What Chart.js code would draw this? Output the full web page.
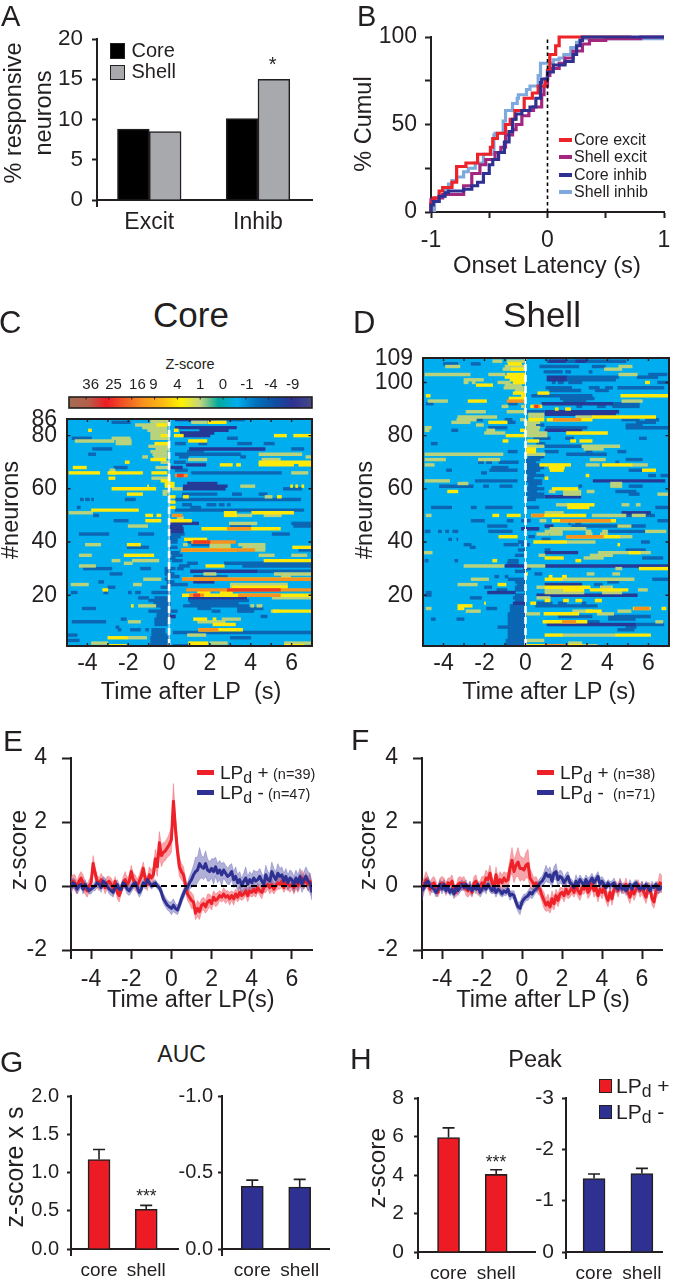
<!DOCTYPE html>
<html>
<head>
<meta charset="utf-8">
<style>
html, body { margin: 0; padding: 0; background: #fff; }
#page { position: relative; width: 681px; height: 1280px; overflow: hidden; font-family: "Liberation Sans", Arial, sans-serif; color: #231f20; }
#page canvas { position: absolute; }
.t { position: absolute; white-space: nowrap; line-height: 1; }
.t sub { font-size: .84em; vertical-align: -0.22em; line-height: 0; }
.sw { position: absolute; }
</style>
<script src="https://cdn.jsdelivr.net/npm/chart.js"></script>
</head>
<body>
<div id="page"></div>
<script>
// Panel A
const responseTypes = ['Excit', 'Inhib'];
const coreResponsive = [8.8, 10.1];
const shellResponsive = [8.5, 15];

// Panel B, latency [s] and cumulative %
const coreExcit = [[-1,0],[-.98,5],[-.93,8],[-.9,12],[-.82,14],[-.78,17],[-.7,26],[-.6,28],[-.49,33],[-.47,37],[-.43,42],[-.36,45],[-.32,50],[-.28,53],[-.2,58],[-.13,65],[-.08,68],[-.02,72],[0,76],[.02,81],[.07,90],[.1,95],[.17,100],[.72,100]];
const shellExcit = [[-1,0],[-.97,7],[-.9,8],[-.72,10],[-.65,15],[-.58,22],[-.53,27],[-.45,30],[-.4,34],[-.36,37],[-.3,44],[-.27,47],[-.22,50],[-.16,55],[-.12,58],[-.05,60],[-.03,67],[0,72],[.02,78],[.1,82],[.15,85],[.22,88],[.3,92],[.36,96],[.5,98],[.8,99],[1,100]];
const coreInhib = [[-1,0],[-.98,4],[-.93,6],[-.88,9],[-.85,11],[-.72,12],[-.65,13],[-.6,15],[-.55,17],[-.5,22],[-.47,27],[-.42,30],[-.37,34],[-.33,40],[-.3,46],[-.27,53],[-.22,56],[-.15,58],[-.1,60],[-.06,65],[-.05,74],[0,76],[.05,80],[.15,84],[.22,86],[.25,90],[.28,95],[.3,98],[.72,100],[1,100]];
const shellInhib = [[-.97,0],[-.93,6],[-.88,9],[-.85,13],[-.82,16],[-.78,18],[-.72,20],[-.68,23],[-.62,25],[-.55,28],[-.46,33],[-.45,44],[-.38,45],[-.36,52],[-.3,58],[-.26,62],[-.25,65],[-.18,67],[-.15,70],[-.08,72],[-.06,78],[-.05,85],[.05,85],[.1,87],[.14,88],[.2,90],[.25,94],[.28,97],[1,99]];

// Colour scale of panel C
const zScoreLabels = ['36','25','16','9','4','1','0','-1','-4','-9'];
const zScoreColors = ['#a56b52','#b5604c','#ed1c24','#f15a24','#f7941d','#fdb913','#fff200','#c4d77f','#00a99d','#00aeef','#0072bc','#0f4fa3','#2e3192','#454a85'];

// Panel C rows: [neuron, from s, to s]
const coreDark = [[86,2.4,3.7],[85,-2.8,-1.9],[79,-4.75,-3.8],[79,2.85,3.35],[77,.3,.8],[77,1.45,1.85],[77,3.35,4.05],[77,4.65,5.15],[75,-3.75,-2.8],[75,6,6.6],[74,.9,1.7],[73,-3.95,-3.6],[73,.3,3.5],[72,.5,.95],[72,3.5,3.75],[70,.25,.8],[68,-2.7,-2.05],[67,.3,.9],[66,1.1,5.5],[60,5.6,6.5],[58,.65,2.35],[58,3.1,3.55],[58,4.4,4.8],[56,-4.35,-4.2],[56,-4.1,-3.9],[56,-3.8,-3.7],[56,-2.15,-1.65],[56,.3,6.45],[54,.65,1.1],[54,1.85,2.3],[54,2.45,2.7],[54,2.85,3],[53,-4.5,-4.35],[53,1.05,1.55],[52,.3,6.6],[50,-3.7,-3.45],[48,-2.7,-2],[47,6,7],[46,3,4],[46,6.1,7],[43,-4.4,-2.95],[43,-1.5,-.75],[43,.05,.75],[43,5.05,5.9],[42,.05,.55],[41,.05,.4],[40,.05,.4],[40,.9,1.1],[39,1.1,2.75],[38,-2.05,-1],[38,.05,.4],[37,6.35,7],[36,.05,.5],[35,.15,.65],[34,.05,.3],[33,.15,.65],[32,.9,1.4],[32,2.7,7],[31,.5,1],[31,3.6,7],[30,-4.2,-2.8],[30,-1.4,-.9],[30,-.2,.3],[30,.4,.7],[29,4.3,7],[29,-.2,.05],[28,-2.9,-2.3],[28,-.2,.25],[27,-.1,.5],[27,1.2,2.85],[26,-.2,.05],[25,-3.45,-3.2],[25,-.1,.25],[24,-.1,.9],[23,-3,-2.65],[23,-.4,.05],[21,-4.8,-4.5],[21,-3.2,-3],[21,-2,-1.85],[21,-1.65,-1.4],[21,-.85,-.5],[21,-.5,.05],[19,-1.5,-1],[19,-.7,.05],[18,-1,.05],[18,.95,3.9],[17,-.75,.05],[17,1.05,3.4],[16,-.7,.05],[16,.7,3.9],[15,-4.25,-3.6],[15,-.4,.05],[15,1.4,2.05],[15,3.35,4.6],[14,-1,.4],[14,2.1,2.5],[14,3.35,4.15],[13,-.6,.05],[12,-.6,.3],[12,4.5,4.8],[11,-2.35,-2.1],[11,-.7,.05],[10,-4.75,-3.1],[10,-.7,.05],[9,-.7,-.1],[8,-2.6,-2.45],[7,-2.5,-2.35],[7,-1.9,-1.4],[7,-1.15,-1],[7,-.85,-.2],[6,-.85,-.2],[6,.2,6.95],[5,-5,-4.5],[5,-.85,-.1],[4,-.9,0],[4,3,4],[3,-5,-4.4],[3,-.9,0],[2,-.9,0],[1,-.9,0],[1,.2,1]];
const coreNavy = [[86,.3,2.35],[83,.3,3.3],[82,1.5,2.9],[81,.55,2.2],[80,.7,2],[75,1,4.7],[69,.85,1.8],[68,.05,.65],[62,.9,2.35],[61,.7,2.85],[60,.65,2.75],[47,.05,1.45],[46,.05,.65],[45,.05,.7],[44,.05,.7],[29,1.05,4.3],[25,1.2,2.2],[19,.95,3.8],[12,0,.3]];
const corePale = [[86,-.9,0],[85,-.9,0],[85,1.1,1.85],[84,-1.65,-.1],[83,-1.3,-.1],[82,-1.05,-.1],[81,-.9,-.1],[80,-.9,0],[79,-2.8,-1.9],[79,-.9,0],[78,-4.6,-2.7],[78,-2.6,-1.85],[77,-2.6,-1.85],[76,-1,0],[75,-.65,0],[74,-.9,-.1],[73,-.8,-.1],[73,4.4,6.5],[72,-1.3,-1.05],[72,-.75,-.1],[72,6.7,6.95],[71,.95,1.85],[71,4.55,5.45],[70,-.4,0],[68,-.65,0],[67,-2.9,-2.65],[66,6,6.8],[64,-.85,.05],[61,3.5,4.2],[60,.15,.65],[59,-.3,0],[58,-.3,-.1],[57,4.7,5.05],[51,-4.9,-3.75],[50,4.65,5.5],[50,3.2,4.05],[49,.4,.7],[47,2.95,4.3],[46,-2,-1.05],[39,-4.1,-3.35],[39,.7,.9],[39,2,3],[39,3.4,4.7],[38,2,3],[38,3.6,4.7],[37,4.2,4.7],[35,-4.4,-3.8],[35,4.4,5.15],[35,6,6.75],[33,-2.8,-2.4],[33,-1.8,-.5],[32,-2.2,-1.8],[31,-4.4,-3.6],[28,1.7,2.3],[28,5.15,6.95],[27,5.5,5.95],[26,-1.25,-.4],[24,-4.8,-3.95],[24,-1.75,-1.35],[24,3,5.8],[23,3,3.6],[21,1.4,2],[19,5.05,6.95],[16,-1.5,-.65],[16,4,4.15],[16,4.3,4.55],[14,5,5.4],[11,2.6,3.5],[10,-2,-1.4],[10,1.4,2.75],[5,.9,1.8],[4,-2.05,-1.1],[2,-3.8,-3],[2,2,2.85],[2,5.65,6.95],[1,-3,-2.1]];
const coreYellow = [[85,1.9,2.8],[84,-.6,-.1],[82,.25,.45],[82,-3.95,-3.8],[80,-.4,-.1],[80,.25,.7],[80,5.15,5.75],[80,6.1,6.95],[78,.95,1.85],[77,-.7,0],[71,-.9,-.15],[70,-2.15,-1.95],[70,4.4,6.95],[69,2.5,3.1],[69,3.3,3.5],[69,4.4,6.1],[69,6.35,6.95],[68,-4.7,-4.05],[66,-4.9,-3.4],[66,-3,-1.3],[66,-.85,-.1],[66,-2.9,-2.6],[64,-2.95,-2.65],[63,-.4,.05],[62,-.2,.25],[61,-1.05,-1],[61,-.2,.25],[61,5.95,6.05],[61,6.2,6.3],[61,6.5,6.6],[60,-2.8,-.65],[58,-2.05,-1.3],[57,0,.3],[57,.7,.95],[57,5.3,5.5],[55,.05,.3],[53,.05,.3],[52,-3.8,-1.5],[51,2.7,3.3],[51,4.05,6.1],[50,-1.15,-.8],[50,-.6,-.4],[50,2.7,3.3],[48,-1.15,-.4],[48,.05,1.1],[45,1.6,5.45],[41,.75,1.85],[39,-2.05,-1.4],[38,6.05,6.95],[37,.6,3.3],[35,-2.2,-.75],[33,4.65,6.95],[31,1.8,2.7],[26,.65,6.95],[23,3.1,5.8],[22,-3.25,-3],[21,1.4,2],[21,2.5,3.1],[20,.65,6.95],[16,-1.85,-1.75],[14,5.1,6.95],[11,1.2,1.85],[11,2.15,2.3],[9,2.15,3.25],[7,1.45,3.6],[4,-3,-2.05],[2,.95,1.9],[1,-2.9,-2.1],[1,.95,1.9],[1,5.65,6.6]];
const coreOrange = [[65,.3,.9],[50,.15,.65],[45,2.85,4],[40,1.1,3.25],[37,.6,4.2],[26,.65,6.95],[22,.85,6.95],[20,1,1.7],[20,3.4,5.45],[7,1.45,2.4]];
const coreRed = [[65,.4,.7],[40,1.2,2],[22,2.85,5.45],[20,1.2,1.5]];

// Panel D rows
const shellDark = [[108,1.05,4.9],[107,-4,-3.3],[107,-2.65,-2.2],[106,.7,2.6],[106,3.25,3.9],[104,.9,1.8],[104,1.95,2.2],[104,3.1,3.25],[103,6,6.9],[102,2,4.55],[102,5.45,6.45],[101,2,4.4],[100,1.3,1.45],[100,1.6,1.85],[100,2.1,2.75],[100,6.45,6.95],[98,1,2.25],[98,3.1,3.6],[98,3.9,4.25],[98,4.5,6.75],[97,1.15,2.7],[97,3.4,4.05],[95,.3,3.25],[94,1.7,3.35],[93,1.85,2.95],[92,-4.85,-4.5],[92,-.85,-.4],[92,4.25,5.55],[91,2.5,2.75],[91,3.5,3.9],[91,4.25,5.55],[89,.05,.9],[86,-2.4,-2.1],[86,-1,-.65],[86,4.7,5.55],[86,5.85,6.5],[85,-.85,-.5],[85,5.4,6.35],[84,.5,.9],[84,4.9,5.7],[83,-1.8,-.9],[83,1,3],[83,4.9,6.95],[82,-3.6,-3.3],[79,.4,1.2],[79,1.95,2.35],[79,5.55,5.9],[77,-4.6,-4.3],[77,.55,.95],[76,.95,2.75],[75,0,.05],[74,-.85,-.4],[74,.95,1.6],[74,2.95,3.25],[74,4.5,4.9],[73,2,3.95],[72,.15,.9],[71,.05,.7],[71,4.9,5.7],[70,-2.3,-2.05],[70,-1.9,-1.65],[70,-1.3,-.35],[70,.05,.5],[70,4.4,4.55],[69,.05,.65],[68,-1.65,-.85],[68,.05,.9],[67,-3.85,-3.6],[67,-1.75,-.4],[67,.05,.7],[67,5.05,5.7],[66,-2.15,-1.9],[66,.05,.5],[65,.15,.9],[65,6,6.35],[65,6.6,6.95],[64,.05,.4],[63,-2.45,-.4],[63,.05,.8],[62,.15,.8],[61,-4.2,-2.55],[61,-2.05,-1.8],[61,-1.25,-.65],[61,.15,.55],[61,2.6,2.75],[61,5.05,5.7],[60,.05,.9],[59,.15,.55],[59,4.4,5.4],[58,.05,.9],[58,5.05,5.55],[57,.15,.9],[56,.05,.5],[53,-4.6,-3.6],[53,-2.65,-2.4],[53,-1.95,-.65],[53,.05,.65],[53,6.35,6.95],[50,4.9,6.3],[48,-2.65,-2],[48,-.9,-.6],[48,-.2,.25],[48,6.45,6.95],[47,2.1,2.2],[47,2.45,2.7],[46,-1.85,-.9],[46,2.25,5.85],[45,-.2,.65],[44,-4.9,-4.65],[44,-4.25,-4.1],[44,-3.9,-3.75],[44,-3.55,-3.3],[44,-1.8,-.65],[44,4.05,5.85],[42,.15,.45],[41,-3.75,-3.6],[41,-3.35,-3.3],[41,.8,1.2],[40,-.35,0],[40,5.65,6.05],[39,-3,-2.65],[39,-1.05,-.35],[39,-.2,.2],[38,-2.7,-2.45],[37,-.35,0],[37,.95,1.2],[37,4.9,5.85],[35,-.5,0],[34,5.7,6.7],[33,-4.9,-4.75],[33,-3.45,-3.3],[33,-.85,-.35],[32,-.9,-.35],[30,-.1,.25],[29,-.5,0],[28,.45,.8],[27,-1.5,-1.3],[27,-1,-.85],[26,-.85,0],[26,6.2,6.95],[25,-.5,0],[25,4,4.55],[24,-.4,0],[24,3.35,3.75],[23,-2,-1.65],[23,-.5,0],[22,-1.4,-.9],[22,-.5,0],[21,-4.85,-4.6],[20,-4.9,-4.6],[20,-.5,0],[19,-2.7,-2.15],[19,-.6,0],[18,-.5,0],[17,.55,1.3],[17,1.6,2],[17,2.75,2.95],[16,-.75,0],[16,.5,3.5],[15,-1.9,-1.4],[15,-.75,0],[14,-.75,0],[13,-.85,0],[12,1.6,3.25],[12,4.05,6.1],[12,-.85,0],[11,-4.6,-4.4],[11,-3.35,-3],[11,-.85,0],[11,4.05,5.35],[10,-.85,0],[10,3,3.6],[9,-.85,0],[9,5.45,6.75],[8,-1.35,-.85],[8,-.85,0],[8,4.9,5.4],[7,-.85,0],[7,4.5,5.3],[6,-.85,0],[5,-.85,0],[4,-.85,0],[3,-.95,0],[2,-.95,0],[1,-.95,0]];
const shellNavy = [[108,1.15,1.95],[108,2.45,2.95],[102,1.05,2],[101,1.05,2],[92,.8,4.25],[89,.95,4.55],[88,.95,4.4],[82,.95,2.75],[63,3.3,6.8],[57,.95,2.7],[51,4.7,6.1],[46,.95,1.35],[45,-.2,.65],[36,.95,2.55],[31,-1,0],[31,.95,6.95],[24,.95,2.75],[21,-1.85,-.5],[20,.55,5.45],[17,-.6,0],[9,1.05,5.4]];
const shellPale = [[108,-.9,0],[108,-1.6,-1.15],[106,-3.9,-3.2],[106,-1,0],[106,4.55,5.2],[105,-1.1,0],[105,3.85,4.7],[103,-4.9,-2.7],[103,-1.8,-1],[103,4.55,5.45],[101,-3,-2.05],[100,-3,-2.8],[100,-2.6,-2.45],[100,-1.35,-.75],[99,-1,-.2],[98,-1.05,-.1],[97,-.5,-.1],[93,-4.75,-3.8],[93,4.7,5.7],[91,-1.15,-.85],[91,-.2,0],[89,-2.9,-1.95],[89,-.9,0],[88,.15,.9],[87,-3.3,-1.4],[87,.15,.9],[87,2.45,3.25],[86,-3.35,-2.4],[86,-.25,0],[85,-3.6,-2.7],[85,0,.7],[84,-2.4,-2.05],[84,.05,.5],[83,-4.9,-4.6],[83,.05,.7],[82,-4.9,-4.7],[82,-1.9,-1.5],[82,.05,.65],[81,-2,-1],[81,.05,1.05],[80,.05,1.05],[78,.05,.15],[76,.05,.9],[76,2.75,4.6],[75,2.85,3.8],[73,-4.9,-1.1],[73,.05,.95],[71,-4.9,-3.9],[71,-2.3,-1.25],[71,3.15,3.9],[69,-4.9,-4.45],[69,2.95,3.6],[69,5.2,5.95],[63,-4.9,-3.7],[62,-3.3,-2.8],[62,4.15,4.7],[61,4.15,4.7],[59,1.15,1.45],[59,1.85,2.7],[59,3,3.35],[58,1.85,2.7],[58,6.45,6.95],[54,1.5,2.05],[54,4.7,5.05],[54,5.4,5.6],[51,.95,1.85],[50,3.25,4.9],[50,5.2,5.85],[50,-4.85,-4.6],[48,.7,1],[46,4.5,5.15],[45,1.2,2.95],[44,.95,1.8],[44,2.95,3.2],[44,3.75,4],[44,5.85,6.85],[43,.55,1.15],[43,1.2,1.8],[43,2.95,3.25],[43,3.65,4],[42,4.6,5.2],[40,2,3.4],[36,-4.95,-4.55],[36,3.55,6.1],[35,.65,.95],[35,3.15,4.25],[34,2.85,3.8],[31,-3,-1.05],[31,.05,.95],[30,4.4,4.7],[28,3,3.35],[28,4.25,4.6],[26,-2.65,-1.8],[26,1.8,5.3],[24,-3.3,-2.35],[23,.55,.95],[23,3.65,4.25],[22,.95,1.85],[22,5.5,5.95],[21,.95,2.85],[21,3.75,4.7],[19,.55,1.2],[18,3.4,3.7],[15,-4.85,-4.6],[14,-2.9,-2.2],[14,2.3,3.25],[14,4.5,5.15],[13,.05,.7],[13,3.5,4.3],[10,6.35,6.7],[5,1.8,4.4],[3,.05,.9],[2,2.1,2.75],[1,2.75,3.5]];
const shellYellow = [[107,-.85,-.2],[105,-.7,-.1],[103,-.9,0],[102,-1,0],[101,-.75,0],[100,-.6,0],[100,5.85,6.05],[99,-2.4,-1.6],[96,-.6,0],[96,.6,1.15],[95,-4.85,-4.65],[95,-.2,0],[95,4.65,6.95],[94,-.8,0],[93,-2.8,-1.9],[91,.25,.8],[90,1.45,1.6],[90,1.95,2.2],[87,3.25,6.35],[86,.15,.9],[86,1.05,3.25],[85,-1.8,-.9],[82,-.25,0],[81,2,4],[80,-.95,0],[78,-1.1,-.85],[78,.15,.65],[78,2.2,2.45],[78,2.65,3.25],[75,.05,.5],[74,.05,.5],[69,.7,2.2],[69,3.75,5.2],[68,1.15,1.9],[67,1.2,1.85],[67,5.7,6.35],[65,2.95,3.1],[64,.95,1.1],[60,1.3,2.55],[59,-3.8,-3.3],[54,2.05,3.35],[53,2.05,3.1],[50,-1.6,-1.3],[50,-.9,-.25],[50,.3,2.95],[48,1.3,4.4],[42,-1.3,-.4],[42,2,4.6],[40,.4,2],[39,4.5,4.6],[36,5.05,5.6],[34,.95,1.85],[33,-1.6,-1.4],[33,2.45,2.7],[30,5.55,6.95],[28,-0,.1],[27,1.15,1.3],[27,1.8,2],[26,.95,1.8],[24,-1.35,-.95],[23,.95,3.15],[22,1.85,2.85],[22,3.15,5],[18,.95,1.2],[18,1.85,2.1],[18,2.45,2.75],[18,3.4,3.7],[17,.25,.5],[17,-2,-1.95],[16,-3.3,-2.6],[15,-3.3,-3],[15,5.25,6.1],[15,6.65,6.85],[14,2.95,3.7],[13,.9,2.6],[10,.85,3],[5,.95,1.8],[5,4.4,6.1],[1,.05,.95],[1,2.1,2.75]];
const shellOrange = [[93,-.9,-.1],[91,.4,.7],[86,1.35,2.7],[50,.3,.9],[48,1.7,4.15],[42,2,3.8],[15,5.3,6.05],[10,1.8,2.45],[1,.95,1.95]];
const shellRed = [[91,.45,.6]];

// Panels E and F, z-score sampled every 0.1 s
const timePoints = [-5,-4.9,-4.8,-4.7,-4.6,-4.5,-4.4,-4.3,-4.2,-4.1,-4,-3.9,-3.8,-3.7,-3.6,-3.5,-3.4,-3.3,-3.2,-3.1,-3,-2.9,-2.8,-2.7,-2.6,-2.5,-2.4,-2.3,-2.2,-2.1,-2,-1.9,-1.8,-1.7,-1.6,-1.5,-1.4,-1.3,-1.2,-1.1,-1,-.9,-.8,-.7,-.6,-.5,-.4,-.3,-.2,-.1,0,.1,.2,.3,.4,.5,.6,.7,.8,.9,1,1.1,1.2,1.3,1.4,1.5,1.6,1.7,1.8,1.9,2,2.1,2.2,2.3,2.4,2.5,2.6,2.7,2.8,2.9,3,3.1,3.2,3.3,3.4,3.5,3.6,3.7,3.8,3.9,4,4.1,4.2,4.3,4.4,4.5,4.6,4.7,4.8,4.9,5,5.1,5.2,5.3,5.4,5.5,5.6,5.7,5.8,5.9,6,6.1,6.2,6.3,6.4,6.5,6.6,6.7,6.8,6.9,7];
const coreUp = [.05,.15,.1,-.05,.15,.25,.1,-.05,-.15,0,
  .1,.7,.4,.15,.05,.2,.1,-.05,.1,.15,
  .05,-.1,.15,-.2,-.3,-.1,.1,.2,.05,.15,
  .45,.2,.1,0,.15,.3,.55,.2,.05,.35,
  .25,.35,.85,.6,1.35,.95,1.05,1.1,1.2,1.3,
  1.45,2.65,1.8,1.1,.6,.45,.35,.05,-.25,-.35,
  -.45,-.5,-.85,-.7,-.8,-.6,-.55,-.65,-.5,-.45,
  -.55,-.35,-.45,-.4,-.3,-.35,-.25,-.35,-.3,-.4,
  -.3,-.4,-.25,-.35,-.2,-.3,-.25,-.15,-.3,-.15,
  -.2,-.1,-.2,-.05,-.15,-.2,-.05,0,.05,-.05,
  .05,-.1,0,.1,.05,.15,-.05,.1,.05,0,
  .05,-.05,.1,0,.15,.25,.1,.2,.05,.15,
  -.1];
const coreUpErr = [.25,.2,.25,.2,.2,.2,.25,.2,.2,.2,
  .2,.25,.2,.2,.2,.2,.15,.2,.2,.15,
  .2,.2,.15,.2,.2,.15,.2,.25,.2,.2,
  .2,.2,.25,.2,.2,.25,.2,.2,.2,.25,
  .25,.25,.3,.3,.35,.35,.3,.3,.3,.35,
  .4,.55,.4,.35,.3,.25,.25,.2,.2,.2,
  .25,.2,.2,.25,.25,.2,.2,.2,.25,.2,
  .2,.2,.2,.2,.15,.15,.2,.2,.15,.2,
  .15,.2,.15,.15,.2,.15,.15,.15,.2,.15,
  .15,.2,.15,.15,.15,.2,.15,.2,.15,.2,
  .2,.15,.15,.2,.15,.2,.15,.2,.15,.2,
  .15,.2,.2,.2,.2,.25,.2,.2,.2,.25,
  .2];
const coreDown = [-.05,.1,.05,-.1,0,.05,-.1,.05,-.05,-.15,
  -.1,-.05,0,.1,.05,-.05,.15,.1,0,-.1,
  -.15,-.2,-.05,.05,-.1,-.1,.1,.05,-.1,-.15,
  -.05,.05,.1,-.05,-.2,-.1,.1,.05,.2,.1,
  0,.05,.1,0,-.05,-.2,-.4,-.5,-.6,-.65,
  -.7,-.6,-.7,-.75,-.6,-.4,-.25,-.1,-.05,.1,
  .2,.35,.45,.5,.7,.6,.55,.7,.5,.45,
  .55,.45,.6,.4,.5,.35,.5,.4,.3,.35,
  .45,.2,.3,.1,.2,0,.15,.25,.05,.2,
  .1,.25,.15,.2,.3,.15,.05,.35,.2,.15,
  .45,.3,.2,.4,.3,.35,.15,.3,.1,.25,
  .2,.05,.25,.1,.3,.05,.2,.3,.15,.1,
  -.2];
const coreDownErr = [.2,.15,.15,.15,.15,.1,.15,.15,.1,.1,
  .15,.1,.15,.15,.1,.15,.15,.15,.1,.15,
  .15,.15,.1,.15,.15,.15,.1,.15,.15,.15,
  .15,.15,.1,.15,.15,.15,.1,.15,.1,.1,
  .1,.1,.1,.1,.1,.15,.15,.15,.15,.15,
  .2,.2,.15,.15,.15,.15,.15,.15,.15,.2,
  .25,.3,.45,.4,.5,.35,.35,.4,.35,.3,
  .3,.4,.3,.3,.3,.35,.25,.25,.25,.3,
  .25,.25,.3,.25,.25,.25,.25,.35,.25,.25,
  .25,.25,.3,.25,.25,.25,.25,.3,.25,.25,
  .3,.25,.25,.3,.25,.25,.25,.25,.25,.25,
  .25,.25,.25,.25,.25,.25,.25,.3,.3,.3,
  .25];
const shellUp = [-.1,.05,.2,.1,-.1,.05,.1,-.05,-.2,.05,
  .1,.05,-.1,.1,.05,.15,-.1,-.2,.05,.1,
  .05,.1,-.1,-.15,-.05,-.2,.1,.15,-.1,-.05,
  .1,.05,.25,.2,.4,.1,-.05,.35,.05,.2,
  .1,.25,.15,.2,.55,.8,.45,.65,.75,.55,
  .55,.5,.65,.7,.25,.15,.05,.1,-.05,-.1,
  -.3,-.45,-.6,-.5,-.65,-.4,-.55,-.3,-.45,-.25,
  -.2,-.3,-.1,-.25,-.15,-.05,-.2,0,-.15,-.25,
  -.05,-.1,.05,-.2,-.1,.1,-.15,-.05,-.3,-.1,
  -.2,-.05,-.3,-.45,-.2,-.4,-.1,0,-.15,.05,
  -.05,-.1,.05,-.2,-.35,-.1,-.25,-.1,.05,-.15,
  -.05,-.2,-.35,-.1,-.05,-.4,-.5,-.15,-.05,.1,
  .05];
const shellUpErr = [.2,.2,.25,.2,.2,.2,.2,.2,.15,.2,
  .2,.2,.2,.15,.2,.2,.2,.15,.2,.2,
  .2,.2,.2,.2,.2,.15,.2,.2,.2,.2,
  .2,.25,.25,.2,.25,.2,.2,.25,.2,.25,
  .25,.2,.25,.25,.3,.4,.35,.35,.45,.4,
  .35,.35,.4,.45,.3,.25,.2,.2,.2,.2,
  .2,.25,.2,.25,.2,.25,.2,.2,.2,.2,
  .15,.2,.2,.15,.2,.2,.15,.2,.2,.2,
  .2,.15,.2,.2,.2,.15,.2,.2,.2,.15,
  .2,.15,.2,.2,.15,.2,.2,.15,.2,.2,
  .15,.15,.2,.2,.2,.15,.2,.2,.15,.2,
  .2,.2,.2,.2,.15,.2,.2,.25,.2,.3,
  .25];
const shellDown = [-.15,-.05,.1,.15,0,-.05,-.1,-.2,-.1,.05,
  -.1,.05,-.15,-.05,-.2,-.1,-.25,-.05,-.15,-.05,
  .05,-.05,.05,-.1,0,-.15,-.05,-.1,.05,-.2,
  -.1,0,-.1,.05,-.05,-.15,-.05,-.2,-.1,-.15,
  -.25,-.15,-.2,-.1,-.3,-.25,-.3,-.5,-.65,-.7,
  -.5,-.4,-.35,-.3,-.2,-.25,-.15,-.1,0,.1,
  .15,.25,.4,.3,.35,.15,.4,.45,.2,.3,
  .25,.1,.2,.3,.1,.05,-.05,.15,.05,.2,
  .1,.05,.2,.05,.15,.25,.1,.2,.3,.05,
  .15,.05,-.05,.1,0,.05,.1,-.05,-.1,.05,
  -.1,0,-.15,-.05,.05,-.1,.05,.1,-.05,-.1,
  0,-.1,.05,-.05,-.15,0,-.05,.05,-.1,-.1,
  0];
const shellDownErr = [.3,.15,.15,.15,.15,.15,.1,.15,.15,.15,
  .15,.15,.1,.15,.1,.15,.15,.1,.15,.15,
  .15,.1,.15,.1,.15,.15,.1,.15,.1,.15,
  .15,.1,.15,.1,.15,.1,.15,.15,.1,.15,
  .1,.15,.1,.15,.15,.1,.15,.15,.15,.2,
  .15,.15,.1,.15,.15,.15,.15,.1,.15,.15,
  .15,.2,.25,.2,.25,.2,.2,.25,.2,.2,
  .2,.15,.2,.15,.15,.15,.15,.2,.15,.15,
  .15,.15,.15,.2,.15,.15,.15,.15,.15,.2,
  .15,.15,.15,.1,.15,.1,.15,.15,.1,.15,
  .15,.1,.15,.1,.15,.15,.1,.1,.15,.1,
  .15,.1,.1,.15,.1,.15,.1,.1,.15,.1,
  .1];

// Panels G and H
const barGroups = ['core', 'shell'];
const aucUp = [1.17, .52];
const aucUpTop = [1.3, .57];
const aucDown = [-.41, -.405];
const aucDownTop = [-.45, -.455];
const peakUp = [5.95, 4.03];
const peakUpTop = [6.45, 4.27];
const peakDown = [-1.43, -1.53];
const peakDownTop = [-1.52, -1.63];

const timeTicks = [-4, -2, 0, 2, 4, 6];
const everySecond = [-4, -3, -2, -1, 0, 1, 2, 3, 4, 5, 6];
const ink = '#231f20', redC = '#ed1c24', blueC = '#2e3192';
const page = document.getElementById('page');

function txt(html, x, base, size, align) {
	const d = document.createElement('div');
	d.className = 't';
	d.innerHTML = html;
	d.style.fontSize = size + 'px';
	d.style.left = x + 'px';
	d.style.top = (base - size * .8465) + 'px';
	if (align === 'center') d.style.transform = 'translateX(-50%)';
	page.appendChild(d);
}

function vtxt(text, x, y, size) {
	const d = document.createElement('div');
	d.className = 't';
	d.textContent = text;
	d.style.fontSize = size + 'px';
	d.style.left = x + 'px';
	d.style.top = y + 'px';
	d.style.transform = 'translate(-50%,-50%) rotate(-90deg)';
	page.appendChild(d);
}

function swatch(l, t, w, h, color, border) {
	const d = document.createElement('div');
	d.className = 'sw';
	d.style.cssText = `left:${l}px;top:${t}px;width:${w}px;height:${h}px;background:${color};` + (border ? `border:1.5px solid ${ink};box-sizing:border-box;` : '');
	page.appendChild(d);
}

// plot rectangle is fixed in pixels, margins hold the tick labels
function plot(box, m, cfg) {
	const c = document.createElement('canvas');
	c.width = box.r - box.l + m.l + m.r;
	c.height = box.b - box.t + m.t + m.b;
	c.style.left = (box.l - m.l) + 'px';
	c.style.top = (box.t - m.t) + 'px';
	page.appendChild(c);
	const o = cfg.options;
	const topAxis = o.scales.x.position === 'top';
	o.responsive = false;
	o.animation = false;
	o.devicePixelRatio = 1;
	o.layout = { autoPadding: false, padding: { top: topAxis ? 0 : m.t, right: m.r, left: 0, bottom: topAxis ? m.b : 0 } };
	o.plugins = { legend: { display: false }, tooltip: { enabled: false } };
	const zero = s => { s.paddingLeft = s.paddingRight = s.paddingTop = s.paddingBottom = 0; };
	o.scales.x.offset = false;
	o.scales.y.offset = false;
	o.scales.x.afterFit = s => { s.height = topAxis ? m.t : m.b; zero(s); };
	o.scales.y.afterFit = s => { s.width = m.l; zero(s); };
	return new Chart(c, cfg);
}

const fixedTicks = vals => s => { s.ticks = vals.map(v => ({ value: v })); };
const border = { color: ink, width: 2 };
const grid = (len) => ({ offset: false, drawOnChartArea: false, drawTicks: len > 0, tickLength: len, tickWidth: 2, tickColor: ink, color: ink });
const noGrid = { display: false, drawTicks: false };
const tickFont = size => ({ family: '"Liberation Sans"', size: size });

// the y axis runs on a bit below the x axis
const stub = len => ({
	id: 'stub',
	afterDraw(ch) {
		const c = ch.ctx, a = ch.chartArea;
		c.save();
		c.strokeStyle = ink;
		c.lineWidth = 2;
		c.beginPath();
		c.moveTo(Math.round(a.left), a.bottom);
		c.lineTo(Math.round(a.left), a.bottom + len);
		c.stroke();
		c.restore();
	}
});

const errorCaps = (tops) => ({
	id: 'errorCaps',
	afterDatasetsDraw(ch) {
		const c = ch.ctx, bars = ch.getDatasetMeta(0).data;
		c.save();
		c.strokeStyle = ink;
		c.lineWidth = 1.6;
		bars.forEach((b, i) => {
			const py = ch.scales.y.getPixelForValue(tops[i]);
			c.beginPath();
			c.moveTo(b.x, b.y);
			c.lineTo(b.x, py);
			c.moveTo(b.x - 6, py);
			c.lineTo(b.x + 6, py);
			c.stroke();
		});
		c.restore();
	}
});

// panel A
plot({ l: 97, t: 39, r: 312, b: 200 }, { l: 90, t: 16, r: 8, b: 40 }, {
	type: 'bar',
	data: {
		datasets: [
			{ data: coreResponsive.map((v, i) => ({ x: i + 1, y: v })), backgroundColor: '#000', borderColor: ink, borderWidth: 1.5, barThickness: 31.8 },
			{ data: shellResponsive.map((v, i) => ({ x: i + 1, y: v })), backgroundColor: '#a7a9ac', borderColor: ink, borderWidth: 1.5, barThickness: 31.8 }
		]
	},
	options: {
		scales: {
			x: { type: 'linear', min: .519, max: 2.497, border, grid: grid(0), afterBuildTicks: fixedTicks([1, 2]),
				ticks: { autoSkip: false, maxRotation: 0, padding: 9, color: ink, font: tickFont(23), callback: v => responseTypes[v - 1] } },
			y: { min: 0, max: 20, border, grid: grid(5), ticks: { stepSize: 5, padding: 9, color: ink, font: tickFont(22.5) } }
		}
	},
	plugins: [stub(7)]
});
swatch(110, 43, 15, 16, '#000', true);
swatch(110, 65, 15, 15, '#a7a9ac', true);
txt('Core', 131.5, 57, 20);
txt('Shell', 131.5, 78, 20);
txt('*', 272.7, 71, 20, 'center');
vtxt('% responsive', 14, 113, 23.5);
vtxt('neurons', 44, 113, 23.5);
txt('A', 1, 26.5, 29);

// panel B
const cumulLine = (pts, color) => ({ data: pts.map(p => ({ x: p[0], y: p[1] })), borderColor: color, borderWidth: 3.2, pointRadius: 0, stepped: 'after', borderJoinStyle: 'miter', clip: 3 });
plot({ l: 431, t: 37, r: 664, b: 212 }, { l: 90, t: 16, r: 17, b: 40 }, {
	type: 'line',
	data: {
		datasets: [
			{ data: [{ x: 0, y: 0 }, { x: 0, y: 100 }], borderColor: '#000', borderWidth: 1.6, borderDash: [3.5, 3], pointRadius: 0 },
			cumulLine(coreInhib, blueC),
			cumulLine(coreExcit, '#ee2329'),
			cumulLine(shellExcit, '#a3277f'),
			cumulLine(shellInhib, '#7ea9dd')
		]
	},
	options: {
		scales: {
			x: { type: 'linear', min: -1, max: 1, border, grid: grid(6), ticks: { stepSize: .5, padding: 9, color: ink, font: tickFont(23), callback: v => Number.isInteger(v) ? v : '' } },
			y: { min: 0, max: 100, border, grid: grid(6), ticks: { stepSize: 25, padding: 8, color: ink, font: tickFont(23), callback: v => v % 50 === 0 ? v : '' } }
		}
	}
});
[['Core excit', 140, '#ee2329'], ['Shell excit', 157, '#a3277f'], ['Core inhib', 175, blueC], ['Shell inhib', 192, '#7ea9dd']].forEach(e => {
	swatch(559, e[1] - 2, 13, 4, e[2]);
	txt(e[0], 574, e[1] + 6, 16);
});
vtxt('% Cumul', 364, 124, 23.5);
txt('Onset Latency (s)', 547, 273, 23.8, 'center');
txt('B', 357, 26.5, 29);

// the colour scale above panel C
plot({ l: 69, t: 397, r: 312, b: 408 }, { l: 2, t: 24, r: 2, b: 2 }, {
	type: 'bar',
	data: {
		datasets: [{
			indexAxis: 'y',
			data: [{ y: 0, x: [-.75, 9.9] }],
			barThickness: 12,
			backgroundColor: ctx => {
				const a = ctx.chart.chartArea;
				if (!a) return '#00aeef';
				const g = ctx.chart.ctx.createLinearGradient(a.left, 0, a.right, 0);
				zScoreColors.forEach((col, i) => g.addColorStop(i / (zScoreColors.length - 1), col));
				return g;
			}
		}]
	},
	options: {
		indexAxis: 'y',
		scales: {
			x: { type: 'linear', position: 'top', min: -.75, max: 9.9, border: { display: false }, grid: noGrid, afterBuildTicks: fixedTicks([.2, 1.2, 2.25, 2.95, 4, 5, 6, 7.05, 8.1, 9.05]),
				ticks: { padding: 3, color: ink, font: tickFont(15), autoSkip: false, maxRotation: 0, callback: (v, i) => zScoreLabels[i] } },
			y: { type: 'linear', display: true, min: -1, max: 1, border: { display: false }, grid: noGrid, ticks: { display: false } }
		}
	},
	plugins: [{
		id: 'barFrame',
		afterDatasetsDraw(ch) {
			const c = ch.ctx, a = ch.chartArea;
			c.save();
			c.strokeStyle = ink;
			c.lineWidth = 1.6;
			c.strokeRect(a.left, a.top, a.width, a.height);
			c.lineWidth = 1;
			[0, 1, 2, 3, 4, 5, 6, 7, 8, 9].forEach(v => {
				const x = ch.scales.x.getPixelForValue(v);
				c.beginPath();
				c.moveTo(x, a.top);
				c.lineTo(x, a.top + 2.5);
				c.stroke();
			});
			c.restore();
		}
	}]
});
txt('Z-score', 190, 369, 14.5, 'center');

// panels C and D
const heatFrame = (yTicks) => ({
	id: 'heatFrame',
	beforeDatasetsDraw(ch) {
		const a = ch.chartArea;
		ch.ctx.save();
		ch.ctx.fillStyle = '#00aeef';
		ch.ctx.fillRect(a.left, a.top, a.width, a.height);
		ch.ctx.restore();
	},
	afterDatasetsDraw(ch) {
		const c = ch.ctx, a = ch.chartArea, X = ch.scales.x, Y = ch.scales.y;
		c.save();
		c.strokeStyle = ink;
		c.lineWidth = 1.4;
		everySecond.forEach(v => {
			const x = X.getPixelForValue(v);
			c.beginPath();
			c.moveTo(x, a.top);
			c.lineTo(x, a.top + 3);
			c.moveTo(x, a.bottom);
			c.lineTo(x, a.bottom - 3);
			c.stroke();
		});
		yTicks.forEach(v => {
			const y = Y.getPixelForValue(v);
			c.beginPath();
			c.moveTo(a.left, y);
			c.lineTo(a.left + 3.5, y);
			c.moveTo(a.right, y);
			c.lineTo(a.right - 3.5, y);
			c.stroke();
		});
		c.lineWidth = 2;
		c.strokeRect(a.left, a.top, a.width, a.height);
		c.restore();
	}
});

function heatmap(box, yMin, yMax, yLabels, layers, dash) {
	const sets = [
		{ indexAxis: 'y', type: 'line', data: [{ x: 0, y: yMin }, { x: 0, y: yMax }], borderColor: '#fff', borderWidth: 2.6, borderDash: dash, pointRadius: 0, order: 0 },
		{ indexAxis: 'y', type: 'line', data: [{ x: 0, y: yMin }, { x: 0, y: yMax }], borderColor: '#fff', borderWidth: 1, pointRadius: 0, order: 0 }
	];
	layers.forEach((l, i) => sets.push({
		type: 'bar',
		data: l[0].map(s => ({ y: s[0], x: [s[1], s[2]] })),
		backgroundColor: l[1],
		barThickness: 2.75,
		order: 10 - i
	}));
	plot(box, { l: 60, t: 16, r: 6, b: 40 }, {
		type: 'bar',
		data: { datasets: sets },
		options: {
			indexAxis: 'y',
			scales: {
				x: { type: 'linear', stacked: false, min: -5, max: 7, border: { display: false }, grid: noGrid, afterBuildTicks: fixedTicks(timeTicks),
					ticks: { padding: 4, color: ink, font: tickFont(23), autoSkip: false, maxRotation: 0 } },
				y: { type: 'linear', stacked: true, min: yMin, max: yMax, border: { display: false }, grid: noGrid, afterBuildTicks: fixedTicks(yLabels),
					ticks: { padding: 10, color: ink, font: tickFont(23), autoSkip: false } }
			}
		},
		plugins: [heatFrame(yLabels.filter(v => v % 20 === 0))]
	});
}

heatmap({ l: 67, t: 419, r: 312, b: 646 }, .9, 86.25, [20, 40, 60, 80, 86],
	[[coreDark, '#0b66b4'], [coreNavy, '#253a97'], [corePale, '#b9d27c'], [coreYellow, '#ffe90a'], [coreOrange, '#f8921e'], [coreRed, '#ee3a24']], [7, 4]);
heatmap({ l: 423, t: 358, r: 669, b: 646 }, .9, 109.2, [20, 40, 60, 80, 100, 109],
	[[shellDark, '#0b66b4'], [shellNavy, '#253a97'], [shellPale, '#b9d27c'], [shellYellow, '#ffe90a'], [shellOrange, '#f8921e'], [shellRed, '#ee3a24']], [7, 4]);
txt('Core', 191, 327, 35, 'center');
txt('Shell', 542, 327, 35, 'center');
vtxt('#neurons', 11, 510, 23.5);
vtxt('#neurons', 365, 510, 23.5);
txt('Time after LP&nbsp;&nbsp;(s)', 191, 699.5, 23.5, 'center');
txt('Time after LP (s)', 549, 699.5, 23.5, 'center');
txt('C', -1, 333, 31);
txt('D', 353, 333, 31);

// panels E and F
function traces(box, up, upErr, down, downErr, dash) {
	const meanLine = (vals, color) => ({ data: vals, borderColor: color, borderWidth: 3, pointRadius: 0, borderJoinStyle: 'round' });
	const edge = (vals, errs, sign, pale, fill) => ({ data: vals.map((v, i) => v + sign * errs[i]), borderColor: pale, backgroundColor: pale, borderWidth: .7, pointRadius: 0, fill: fill });
	plot(box, { l: 70, t: 16, r: 6, b: 40 }, {
		type: 'line',
		data: {
			labels: timePoints,
			datasets: [
				{ data: timePoints.map(() => 0), borderColor: '#000', borderWidth: 2, borderDash: dash, pointRadius: 0 },
				meanLine(down, blueC),
				meanLine(up, '#ee2028'),
				edge(down, downErr, 1, 'rgba(80,80,170,.45)', '+1'),
				edge(down, downErr, -1, 'rgba(80,80,170,.45)', false),
				edge(up, upErr, 1, 'rgba(240,90,100,.55)', '+1'),
				edge(up, upErr, -1, 'rgba(240,90,100,.55)', false)
			]
		},
		options: {
			scales: {
				x: { type: 'linear', min: -5, max: 7, border, grid: grid(9), afterBuildTicks: fixedTicks(timeTicks),
					ticks: { padding: 7, color: ink, font: tickFont(23), autoSkip: false, maxRotation: 0 } },
				y: { min: -2, max: 4, border, grid: grid(9), ticks: { stepSize: 2, padding: 15, color: ink, font: tickFont(23) } }
			}
		},
		plugins: [stub(9)]
	});
}
traces({ l: 71, t: 758, r: 312, b: 950 }, coreUp, coreUpErr, coreDown, coreDownErr, [6, 4]);
traces({ l: 422, t: 758, r: 662, b: 950 }, shellUp, shellUpErr, shellDown, shellDownErr, [8, 2]);
swatch(197, 770, 17, 4.5, '#ee2028');
swatch(197, 790, 17, 4.5, blueC);
txt('LP<sub>d</sub> +', 220, 779.5, 19);
txt('LP<sub>d</sub> -', 220, 799.5, 19);
txt('(n=39)', 273, 779.5, 14.5);
txt('(n=47)', 268, 799.5, 14.5);
swatch(537, 770, 17, 4.5, '#ee2028');
swatch(537, 790, 17, 4.5, blueC);
txt('LP<sub>d</sub> +', 560, 779.5, 19);
txt('LP<sub>d</sub> -', 560, 799.5, 19);
txt('(n=38)', 613, 779.5, 14.5);
txt('(n=71)', 613, 799.5, 14.5);
vtxt('z-score', 18, 850, 24.5);
vtxt('z-score', 367, 850, 24.5);
txt('Time after LP(s)', 190.7, 1008, 23.5, 'center');
txt('Time after LP (s)', 543, 1008, 23.5, 'center');
txt('E', 3, 751, 30);
txt('F', 351, 750, 30);

// panels G and H
function meanBars(box, xMin, xMax, vals, tops, color, yOpts, tickPad, font) {
	plot(box, { l: 60, t: 16, r: 14, b: 34 }, {
		type: 'bar',
		data: { datasets: [{ data: vals.map((v, i) => ({ x: i + 1, y: v })), backgroundColor: color, borderColor: ink, borderWidth: 1.6, barThickness: 22 }] },
		options: {
			scales: {
				x: { type: 'linear', min: xMin, max: xMax, border, grid: grid(0), afterBuildTicks: fixedTicks([1, 2]),
					ticks: { padding: 10, color: ink, font: tickFont(19), autoSkip: false, maxRotation: 0, callback: v => barGroups[v - 1] } },
				y: Object.assign({ border, grid: grid(4), ticks: { stepSize: yOpts.step, padding: tickPad, color: ink, font: tickFont(font), callback: yOpts.fmt } }, yOpts.range)
			}
		},
		plugins: [errorCaps(tops), stub(7)]
	});
}
const oneDecimal = v => v.toFixed(1);
meanBars({ l: 71, t: 1096, r: 178, b: 1249 }, .406, 2.674, aucUp, aucUpTop, redC, { step: .5, fmt: oneDecimal, range: { min: 0, max: 2 } }, 8, 20);
meanBars({ l: 222, t: 1096, r: 329, b: 1249 }, .361, 2.618, aucDown, aucDownTop, blueC, { step: .5, fmt: oneDecimal, range: { min: -1, max: 0, reverse: true } }, 5, 20);
meanBars({ l: 418, t: 1098, r: 535, b: 1252 }, .359, 2.815, peakUp, peakUpTop, redC, { step: 2, fmt: v => v, range: { min: 0, max: 8 } }, 10, 21);
meanBars({ l: 566, t: 1098, r: 662, b: 1252 }, .414, 2.42, peakDown, peakDownTop, blueC, { step: 1, fmt: v => v, range: { min: -3, max: 0, reverse: true } }, 8, 21);
swatch(599, 1079, 13, 14, redC, true);
swatch(599, 1105, 13, 14, blueC, true);
txt('LP<sub>d</sub> +', 616, 1093, 21);
txt('LP<sub>d</sub> -', 616, 1118.5, 21);
txt('***', 146.4, 1203, 17.5, 'center');
txt('***', 496, 1169, 17.5, 'center');
txt('AUC', 181.6, 1062.5, 23, 'center');
txt('Peak', 535, 1068, 23.5, 'center');
vtxt('z-score x s', 14, 1167, 25);
vtxt('z-score', 377, 1168, 24.5);
txt('G', 0, 1072, 30);
txt('H', 350, 1069, 30);
</script>
</body>
</html>
